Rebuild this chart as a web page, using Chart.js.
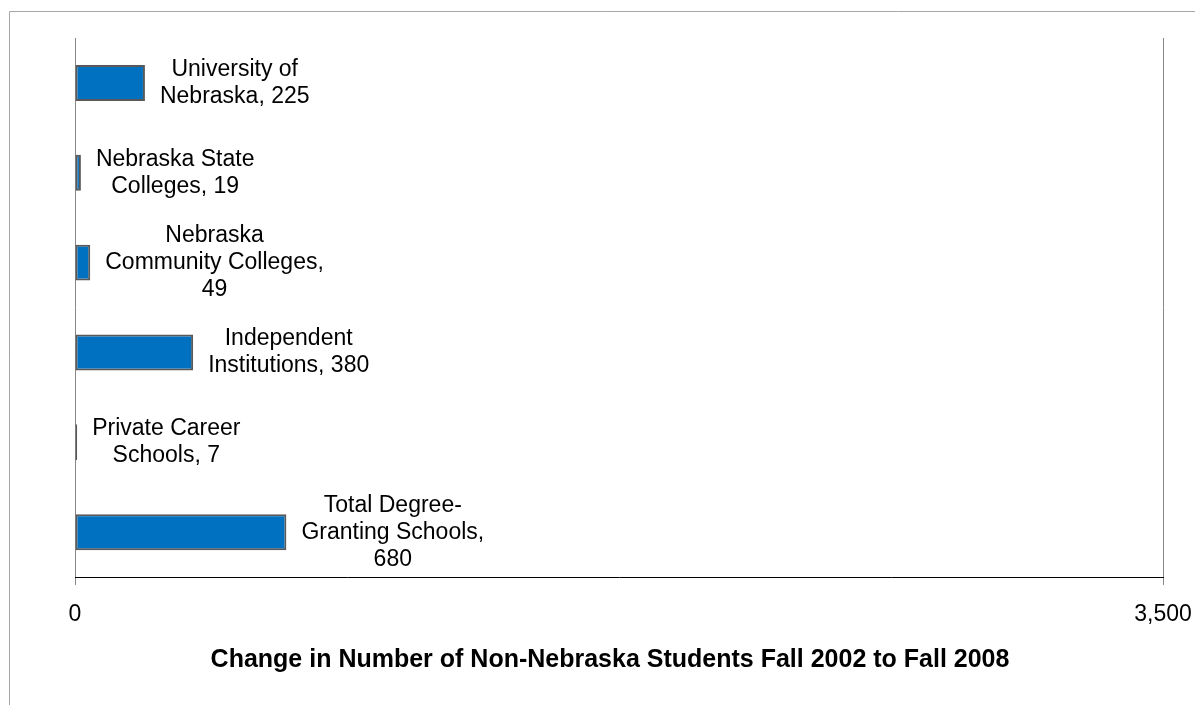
<!DOCTYPE html>
<html>
<head>
<meta charset="utf-8">
<script src="https://cdn.jsdelivr.net/npm/chart.js@4/dist/chart.umd.min.js"></script>
<style>
  html, body { margin: 0; padding: 0; background: #fff; }
  #wrap { width: 1195px; height: 705px; }
</style>
</head>
<body>
<div id="wrap"><canvas id="changeChart" width="1195" height="705"></canvas></div>
<script>
// categories (line breaks as in the picture's data labels)
const categories = [
  "University of\nNebraska",
  "Nebraska State\nColleges",
  "Nebraska\nCommunity Colleges",
  "Independent\nInstitutions",
  "Private Career\nSchools",
  "Total Degree-\nGranting Schools"
];
const valueOnOwnLine = [false, false, true, false, false, true];
const values = [225, 19, 49, 380, 7, 680];
const xTicks = [0, 3500];
const axisTitle = "Change in Number of Non-Nebraska Students Fall 2002 to Fall 2008";

const frame = {
  id: "frame",
  beforeDraw(chart) {
    const ctx = chart.ctx;
    ctx.save();
    ctx.strokeStyle = "#a6a6a6";
    ctx.lineWidth = 1;
    ctx.beginPath();
    ctx.moveTo(9.5, chart.height);
    ctx.lineTo(9.5, 11.5);
    ctx.lineTo(chart.width, 11.5);
    ctx.stroke();
    ctx.restore();
  }
};

const barLabels = {
  id: "barLabels",
  afterDatasetsDraw(chart) {
    const ctx = chart.ctx;
    const meta = chart.getDatasetMeta(0);
    ctx.save();
    ctx.font = "23px 'Liberation Sans', Arial, sans-serif";
    ctx.fillStyle = "#000";
    ctx.textAlign = "center";
    ctx.textBaseline = "middle";
    meta.data.forEach(function (bar, i) {
      let text = categories[i] + (valueOnOwnLine[i] ? ",\n" : ", ") + values[i];
      const lines = text.split("\n");
      let maxW = 0;
      lines.forEach(function (l) { maxW = Math.max(maxW, ctx.measureText(l).width); });
      const cx = bar.x + 15 + maxW / 2;
      const lh = 27;
      lines.forEach(function (l, j) {
        ctx.fillText(l, cx, bar.y + (j - (lines.length - 1) / 2) * lh);
      });
    });
    ctx.restore();
  }
};

const ctx = document.getElementById("changeChart").getContext("2d");
const chart = new Chart(ctx, {
  type: "bar",
  data: {
    labels: categories,
    datasets: [
      {
        data: values,
        backgroundColor: "#0070c0",
        borderColor: "#595959",
        borderWidth: 2,
        borderSkipped: false,
        categoryPercentage: 1,
        barPercentage: 0.4
      }
    ]
  },
  options: {
    indexAxis: "y",
    responsive: false,
    animation: false,
    devicePixelRatio: 1,
    layout: { padding: { top: 38, left: 57, right: 32, bottom: 30 } },
    plugins: {
      legend: { display: false },
      tooltip: { enabled: false },
      title: {
        display: true,
        position: "bottom",
        text: axisTitle,
        color: "#000",
        font: { family: "'Liberation Sans', Arial, sans-serif", size: 25, weight: "bold" },
        padding: { top: 0, bottom: 0 }
      }
    },
    scales: {
      x: {
        min: 0,
        max: 3500,
        afterBuildTicks(scale) {
          scale.ticks = xTicks.map(function (v) { return { value: v }; });
        },
        ticks: {
          padding: 2,
          maxRotation: 0,
          color: "#000",
          font: { family: "'Liberation Sans', Arial, sans-serif", size: 23, lineHeight: 2.43 },
          callback: function (v) { return Number(v).toLocaleString("en-US"); }
        },
        grid: { color: "#888", tickLength: 8 },
        border: { color: "#000", width: 1 }
      },
      y: {
        afterFit(scale) { scale.width = 18; },
        ticks: { display: false },
        grid: { display: false },
        border: { display: false }
      }
    }
  },
  plugins: [frame, barLabels]
});
</script>
</body>
</html>
